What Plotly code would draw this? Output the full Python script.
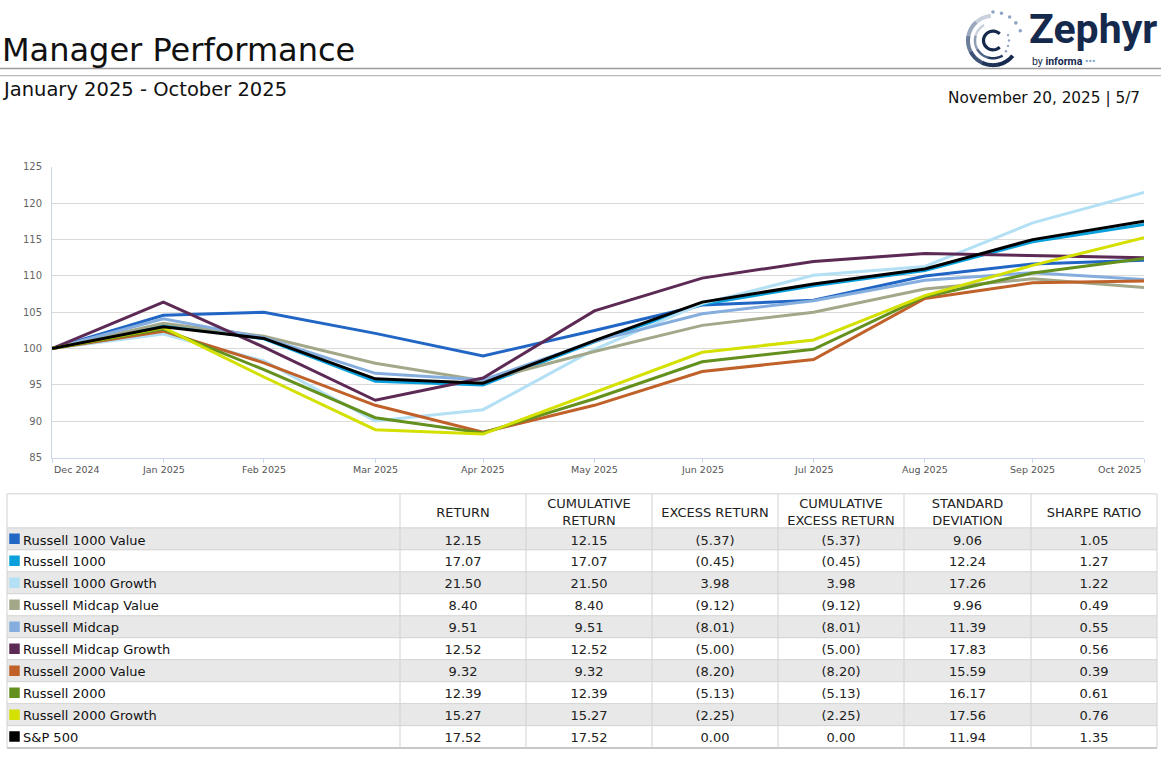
import plotly.graph_objects as go
import numpy as np

W, H = 1168, 759
FONT = "DejaVu Sans"

# ---------------- data ----------------
dates = ["2024-12-31", "2025-01-31", "2025-02-28", "2025-03-31", "2025-04-30", "2025-05-31",
         "2025-06-30", "2025-07-31", "2025-08-31", "2025-09-30", "2025-10-31"]
tick_labels = ["Dec 2024", "Jan 2025", "Feb 2025", "Mar 2025", "Apr 2025", "May 2025",
               "Jun 2025", "Jul 2025", "Aug 2025", "Sep 2025", "Oct 2025"]

names = ["Russell 1000 Value", "Russell 1000", "Russell 1000 Growth", "Russell Midcap Value",
         "Russell Midcap", "Russell Midcap Growth", "Russell 2000 Value", "Russell 2000",
         "Russell 2000 Growth", "S&P 500"]
colors = ["#2166C4", "#0AA0DC", "#B3E0F5", "#A3A88A", "#85AEDF", "#5C2A54",
          "#C0612A", "#64901E", "#D4E000", "#000000"]

r1000_value = [100, 104.6, 105.0, 102.1, 99.0, 102.5, 106.0, 106.65, 110.0, 111.65, 112.15]
r1000 = [100, 103.25, 101.35, 95.5, 95.0, 100.95, 106.1, 108.65, 110.75, 114.7, 117.07]
r1000_growth = [100, 102.0, 98.3, 90.05, 91.6, 99.9, 106.2, 110.1, 111.3, 117.3, 121.50]
midcap_value = [100, 103.5, 101.7, 98.0, 95.6, 99.6, 103.2, 105.0, 108.2, 109.6, 108.40]
midcap = [100, 104.1, 101.5, 96.6, 95.7, 101.0, 104.8, 106.6, 109.4, 110.45, 109.51]
midcap_growth = [100, 106.4, 100.2, 92.9, 95.95, 105.2, 109.7, 112.0, 113.1, 112.8, 112.52]
r2000_value = [100, 102.4, 98.05, 92.2, 88.5, 92.2, 96.85, 98.5, 106.9, 109.05, 109.32]
r2000 = [100, 102.7, 97.1, 90.5, 88.4, 93.1, 98.2, 99.9, 107.15, 110.4, 112.39]
r2000_growth = [100, 102.9, 96.1, 88.85, 88.25, 93.95, 99.5, 101.2, 107.3, 111.45, 115.27]
sp500 = [100, 103.0, 101.4, 95.85, 95.25, 101.1, 106.4, 108.9, 110.95, 115.0, 117.52]

series = [r1000_value, r1000, r1000_growth, midcap_value, midcap, midcap_growth,
          r2000_value, r2000, r2000_growth, sp500]

headers = ["", "RETURN", "CUMULATIVE<br>RETURN", "EXCESS RETURN",
           "CUMULATIVE<br>EXCESS RETURN", "STANDARD<br>DEVIATION", "SHARPE RATIO"]
returns = ["12.15", "17.07", "21.50", "8.40", "9.51", "12.52", "9.32", "12.39", "15.27", "17.52"]
cum_returns = ["12.15", "17.07", "21.50", "8.40", "9.51", "12.52", "9.32", "12.39", "15.27", "17.52"]
excess_returns = ["(5.37)", "(0.45)", "3.98", "(9.12)", "(8.01)", "(5.00)", "(8.20)", "(5.13)", "(2.25)", "0.00"]
cum_excess_returns = ["(5.37)", "(0.45)", "3.98", "(9.12)", "(8.01)", "(5.00)", "(8.20)", "(5.13)", "(2.25)", "0.00"]
std_devs = ["9.06", "12.24", "17.26", "9.96", "11.39", "17.83", "15.59", "16.17", "17.56", "11.94"]
sharpe_ratios = ["1.05", "1.27", "1.22", "0.49", "0.55", "0.56", "0.39", "0.61", "0.76", "1.35"]

title_text = "Manager Performance"
subtitle_text = "January 2025 - October 2025"
date_text = "November 20, 2025 | 5/7"

# ---------------- layout constants (pixels) ----------------
col_widths = [393, 126, 126, 126, 126, 127, 126]
table_x0, table_top, header_h, row_h = 7, 495, 34.5, 22.3
text_dy = 2.5  # nudge text down to sit visually centred in its cell


def px(x):
    return x / W


def py(y):
    return 1 - y / H


fig = go.Figure()

for name, color, vals in zip(names, colors, series):
    fig.add_trace(go.Scatter(x=dates, y=vals, mode="lines", name=name,
                             line=dict(color=color, width=3), showlegend=False,
                             hoverinfo="skip", xaxis="x", yaxis="y"))

# ---------------- table on its own axes ----------------
n_rows = len(names)
x_edges = list(np.cumsum([table_x0] + col_widths))
y_edges = [table_top, table_top + header_h] + [table_top + header_h + row_h * (i + 1) for i in range(n_rows)]
table_x1, table_bottom = x_edges[-1], y_edges[-1]
col_centers = [(x_edges[k] + x_edges[k + 1]) / 2 for k in range(len(col_widths))]
row_centers = [(y_edges[i + 1] + y_edges[i + 2]) / 2 for i in range(n_rows)]
text_rows = [r + text_dy for r in row_centers]
header_center = (y_edges[0] + y_edges[1]) / 2 + text_dy

z_fill = [[0] * len(col_widths)] + [[1 if i % 2 == 0 else 0] * len(col_widths) for i in range(n_rows)]
fig.add_trace(go.Heatmap(x=x_edges, y=y_edges, z=z_fill, zmin=0, zmax=1,
                         colorscale=[[0, "#FFFFFF"], [1, "#E8E8E8"]], showscale=False,
                         hoverinfo="skip", xaxis="x2", yaxis="y2"))

# cell borders
bx, by = [], []
for yv in y_edges:
    bx += [table_x0, table_x1, None]
    by += [yv, yv, None]
for xv in x_edges:
    bx += [xv, xv, None]
    by += [table_top, table_bottom, None]
fig.add_trace(go.Scatter(x=bx, y=by, mode="lines", line=dict(color="#D2D2D2", width=1),
                         hoverinfo="skip", showlegend=False, xaxis="x2", yaxis="y2"))
fig.add_trace(go.Scatter(x=[table_x0, table_x1], y=[table_bottom + 0.5, table_bottom + 0.5], mode="lines",
                         line=dict(color="#C8C8C8", width=2), hoverinfo="skip", showlegend=False,
                         xaxis="x2", yaxis="y2"))

# header text
fig.add_trace(go.Scatter(x=col_centers[1:], y=[header_center] * 6, mode="text", text=headers[1:],
                         textposition="middle center", cliponaxis=False,
                         textfont=dict(family=FONT, size=13, color="#222222"),
                         hoverinfo="skip", showlegend=False, xaxis="x2", yaxis="y2"))
# colour squares + names
fig.add_trace(go.Scatter(x=[table_x0 + 7.5] * n_rows, y=row_centers, mode="markers",
                         marker=dict(symbol="square", size=10.5, color=colors, line=dict(width=0)),
                         hoverinfo="skip", showlegend=False, xaxis="x2", yaxis="y2"))
fig.add_trace(go.Scatter(x=[table_x0 + 16] * n_rows, y=text_rows, mode="text", text=names,
                         textposition="middle right", cliponaxis=False,
                         textfont=dict(family=FONT, size=13, color="#111111"),
                         hoverinfo="skip", showlegend=False, xaxis="x2", yaxis="y2"))
for k, col in enumerate([returns, cum_returns, excess_returns, cum_excess_returns, std_devs, sharpe_ratios]):
    fig.add_trace(go.Scatter(x=[col_centers[k + 1]] * n_rows, y=text_rows, mode="text", text=col,
                             textposition="middle center", cliponaxis=False,
                             textfont=dict(family=FONT, size=13, color="#222222"),
                             hoverinfo="skip", showlegend=False, xaxis="x2", yaxis="y2"))

annotations = []
for i, (d, t) in enumerate(zip(dates, tick_labels)):
    anchor = "left" if i == 0 else ("right" if i == len(dates) - 1 else "center")
    annotations.append(dict(x=d, xref="x", y=py(470), yref="paper", text=t, showarrow=False,
                            xanchor=anchor, yanchor="middle",
                            font=dict(family=FONT, size=9.5, color="#555555")))

annotations += [
    dict(x=px(0), y=py(45), xref="paper", yref="paper", text=title_text, showarrow=False,
         xanchor="left", yanchor="middle", font=dict(family=FONT, size=32, color="#111111")),
    dict(x=px(0), y=py(84.5), xref="paper", yref="paper", text=subtitle_text, showarrow=False,
         xanchor="left", yanchor="middle", font=dict(family=FONT, size=19.5, color="#111111")),
    dict(x=px(1142), y=py(93), xref="paper", yref="paper", text=date_text, showarrow=False,
         xanchor="right", yanchor="middle", font=dict(family=FONT, size=15.3, color="#111111")),
    dict(x=px(1027), y=py(23), xref="paper", yref="paper", text="<b>Zephyr</b>", showarrow=False,
         xanchor="left", yanchor="middle", font=dict(family="Roboto", size=41, color="#15294D")),
    dict(x=px(1030), y=py(56), xref="paper", yref="paper",
         text="by <b>informa</b> <span style='color:#7FA3CF'>•••</span>", showarrow=False,
         xanchor="left", yanchor="middle", font=dict(family="Roboto", size=10.5, color="#15294D")),
]

shapes = [
    dict(type="line", xref="paper", yref="paper", x0=0, x1=px(1161), y0=py(63.3), y1=py(63.3),
         line=dict(color="#9A9A9A", width=1.5)),
    dict(type="line", xref="paper", yref="paper", x0=0, x1=px(1161), y0=py(70.7), y1=py(70.7),
         line=dict(color="#AAAAAA", width=1)),
]


def arc_path(cx, cy, r, a0, a1, n=30):
    a = np.radians(np.linspace(a0, a1, n))
    xs = cx + r * np.cos(a)
    ys = cy - r * np.sin(a)
    return "M " + " L ".join(f"{px(x):.5f},{py(y):.5f}" for x, y in zip(xs, ys))


cx, cy = 993, 35
outer_cols = ["#C9D1DD", "#9AA8BD", "#6A7C99", "#3E5275", "#1F3458", "#15294D"]
seg = np.linspace(95, 320, len(outer_cols) + 1)
for k, c in enumerate(outer_cols):
    shapes.append(dict(type="path", xref="paper", yref="paper",
                       path=arc_path(cx, cy, 25, seg[k], seg[k + 1] + 2),
                       line=dict(color=c, width=4)))
mid_cols = ["#C9D1DD", "#8E9DB4", "#52658A", "#22375B"]
seg = np.linspace(120, 300, len(mid_cols) + 1)
for k, c in enumerate(mid_cols):
    shapes.append(dict(type="path", xref="paper", yref="paper",
                       path=arc_path(cx, cy, 18, seg[k], seg[k + 1] + 2),
                       line=dict(color=c, width=2.5)))
shapes.append(dict(type="path", xref="paper", yref="paper",
                   path=arc_path(cx, cy, 9.5, 45, 315), line=dict(color="#15294D", width=3.2)))
for ang, rad in [(90, 29), (73, 29), (55, 29), (38, 29), (20, 29), (20, 16), (0, 16), (-20, 16), (-40, 17)]:
    x = cx + rad * np.cos(np.radians(ang))
    y = cy - rad * np.sin(np.radians(ang))
    rr = 1.8 if rad == 29 else 1.2
    shapes.append(dict(type="circle", xref="paper", yref="paper",
                       x0=px(x - rr), x1=px(x + rr), y0=py(y + rr), y1=py(y - rr),
                       fillcolor="#8FA4C4", line=dict(width=0)))

fig.update_layout(
    width=W, height=H, autosize=False,
    margin=dict(l=0, r=0, t=0, b=0),
    paper_bgcolor="white", plot_bgcolor="white",
    font=dict(family=FONT),
    xaxis=dict(type="date", range=[dates[0], dates[-1]], domain=[px(52), px(1144)],
               showgrid=False, zeroline=False, showline=True, linecolor="#CCD6EB", linewidth=1,
               ticks="outside", ticklen=4, tickcolor="#CCD6EB", tickvals=dates,
               showticklabels=False, anchor="y", fixedrange=True),
    yaxis=dict(range=[85, 125], tick0=85, dtick=5, domain=[py(458.3), py(163.3)],
               showgrid=True, gridcolor="#D9D9D9", gridwidth=1, zeroline=False,
               showline=True, linecolor="#CCD6EB", linewidth=1, ticks="",
               ticklabelstandoff=7, tickfont=dict(family=FONT, size=10, color="#666666"),
               anchor="x", fixedrange=True),
    xaxis2=dict(range=[table_x0 - 1, table_x1 + 1], domain=[px(table_x0 - 1), px(table_x1 + 1)],
                visible=False, fixedrange=True, anchor="y2"),
    yaxis2=dict(range=[table_bottom + 2, table_top - 1], domain=[py(table_bottom + 2), py(table_top - 1)],
                visible=False, fixedrange=True, anchor="x2"),
    annotations=annotations,
    shapes=shapes,
    hovermode=False,
)

fig.write_html("out.html", config={"displayModeBar": False},
               post_script="document.body.style.margin='0';document.body.style.overflow='hidden';")
